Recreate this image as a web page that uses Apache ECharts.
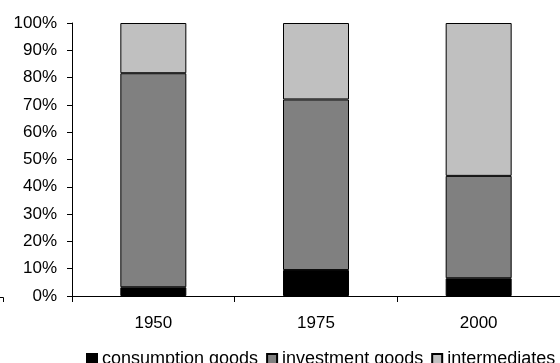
<!DOCTYPE html>
<html>
<head>
<meta charset="utf-8">
<script src="https://cdn.jsdelivr.net/npm/echarts@6/dist/echarts.min.js"></script>
<style>
  html, body { margin: 0; padding: 0; background: #fff; }
  #chart { width: 560px; height: 363px; }
</style>
</head>
<body>
<div id="chart"></div>
<script>
// Share of output by goods type, per year (percent of total)
const years = ['1950', '1975', '2000'];
const consumption = [3.2, 9.5, 6.5];
const investment = [78.4, 62.5, 37.5];
const intermediates = [18.4, 28.0, 56.0];
const seriesNames = ['consumption goods', 'investment goods', 'intermediates'];
const seriesColors = ['#000000', '#808080', '#c0c0c0'];

const font = 'Arial, "Liberation Sans", sans-serif';
const chart = echarts.init(document.getElementById('chart'), null, { renderer: 'canvas' });

const values = [consumption, investment, intermediates];

chart.setOption({
  animation: false,
  backgroundColor: '#ffffff',
  grid: { left: 72, top: 23, width: 498, height: 273, containLabel: false },
  xAxis: {
    type: 'category',
    data: years,
    boundaryGap: true,
    axisLine: { lineStyle: { color: '#000', width: 1 } },
    axisTick: { show: true, length: 6, lineStyle: { color: '#000' } },
    axisLabel: { color: '#000', fontFamily: font, fontSize: 17, margin: 19 },
    splitLine: { show: false }
  },
  yAxis: {
    type: 'value',
    min: 0,
    max: 100,
    interval: 10,
    axisLine: { show: true, lineStyle: { color: '#000', width: 1 } },
    axisTick: { show: true, length: 5, lineStyle: { color: '#000' } },
    axisLabel: { color: '#000', fontFamily: font, fontSize: 17, margin: 15, formatter: '{value}%' },
    splitLine: { show: false }
  },
  legend: {
    left: 86,
    top: 350,
    padding: 0,
    itemWidth: 10,
    itemHeight: 10,
    itemGap: 8,
    icon: 'rect',
    textStyle: { color: '#000', fontFamily: font, fontSize: 18 },
    data: seriesNames
  },
  series: seriesNames.map((name, i) => ({
    name: name,
    type: 'bar',
    stack: 'share',
    barWidth: 66,
    data: values[i],
    itemStyle: { color: seriesColors[i], borderColor: '#000', borderWidth: 1 }
  })),
  graphic: [{
    type: 'polyline',
    shape: { points: [[0, 297.5], [3.5, 297.5], [3.5, 302]] },
    style: { stroke: '#000', lineWidth: 1, fill: null }
  }]
});
</script>
</body>
</html>
